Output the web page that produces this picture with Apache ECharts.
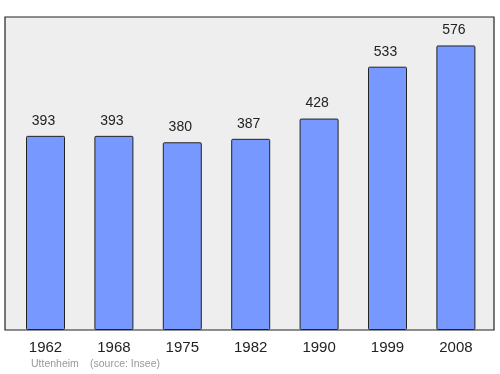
<!DOCTYPE html>
<html><head><meta charset="utf-8">
<script src="https://cdn.jsdelivr.net/npm/echarts@6/dist/echarts.min.js"></script>
<style>html,body{margin:0;padding:0;background:#fff}#c{width:500px;height:374px}</style>
</head><body><div id="c"></div>
<script>
const years = ['1962','1968','1975','1982','1990','1999','2008'];
const population = [393,393,380,387,428,533,576];
const place = 'Uttenheim';
const source = '(source: Insee)';

const chart = echarts.init(document.getElementById('c'), null, {renderer:'canvas'});
chart.setOption({
  animation:false,
  backgroundColor:'#ffffff',
  grid:[
    {left:5, right:6, top:17, bottom:44, show:true, backgroundColor:'#eeeeee', borderColor:'#222', borderWidth:1.2, z:0},
    {left:11.3, right:9.9, top:17, bottom:44, show:false}
  ],
  xAxis:[
    {gridIndex:0, type:'value', show:false, min:0, max:1},
    {gridIndex:1, type:'category', data:years, axisLine:{show:false}, axisTick:{show:false},
     axisLabel:{fontSize:15, color:'#222', margin:10, fontFamily:'Liberation Sans, Arial, sans-serif'}}
  ],
  yAxis:[
    {gridIndex:0, type:'value', show:false, min:0, max:1},
    {gridIndex:1, type:'value', show:false, min:0, max:576*1.1}
  ],
  series:[{
    type:'bar', xAxisIndex:1, yAxisIndex:1, data:population, barWidth:39, z:3,
    itemStyle:{color:'#7799ff', borderColor:'#222', borderWidth:1, borderRadius:1},
    label:{show:true, position:'top', distance:7, offset:[-2,-1], fontSize:14, color:'#222', fontFamily:'Liberation Sans, Arial, sans-serif'}
  }],
  graphic:[
    {type:'text', left:31, top:359, style:{text:place, fontSize:10.5, fill:'#999', fontFamily:'Liberation Sans, Arial, sans-serif'}},
    {type:'text', left:90, top:359, style:{text:source, fontSize:10.5, fill:'#999', fontFamily:'Liberation Sans, Arial, sans-serif'}}
  ]
});
</script></body></html>
